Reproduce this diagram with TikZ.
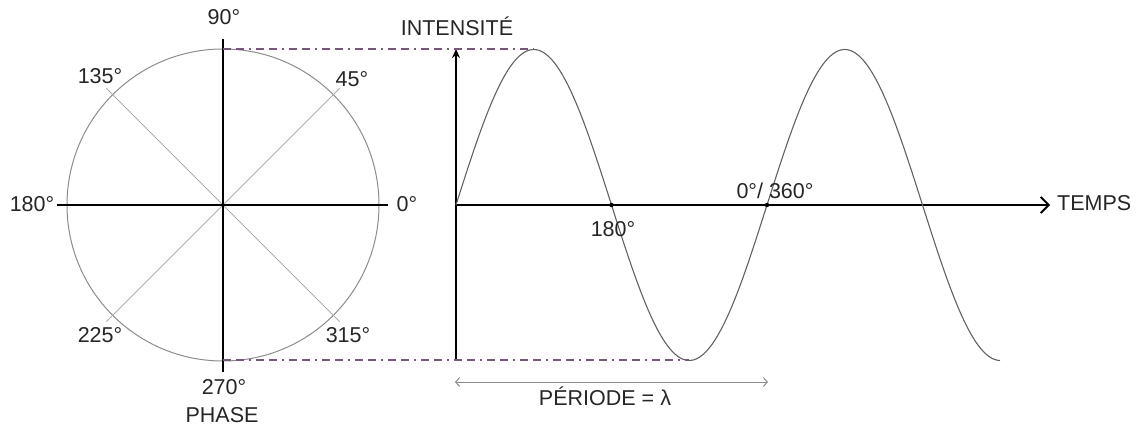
\documentclass[tikz,border=0pt]{standalone}
\usepackage{fontspec}
\setmainfont{Liberation Sans}
\usetikzlibrary{arrows.meta}
\definecolor{phasegray}{RGB}{140,140,140}
\definecolor{spokegray}{RGB}{175,175,175}
\definecolor{guide}{RGB}{120,85,125}
\begin{document}
\begin{tikzpicture}[>={Stealth[length=9pt, width=8pt]}, x=1pt, y=-1pt,
  lbl/.style={anchor=base, inner sep=0pt, text=black!85, font=\fontsize{21.5}{24}\selectfont},
  axis/.style={black, line width=1.8pt},
  spoke/.style={spokegray, line width=0.8pt},
  guideline/.style={guide, line width=2.4pt, dash pattern=on 8pt off 5pt on 8pt off 5pt on 2pt off 5pt}]
\useasboundingbox (0,0) rectangle (1142,427);
% phase circle
\coordinate (o) at (223,205);
\draw[phasegray, line width=1pt] (o) circle (156);
\foreach \a in {45,135,225,315}
  \draw[spoke] (o) -- ++(\a:-165);
\coordinate (top) at (223,39);
\coordinate (bot) at (223,372);
\coordinate (lft) at (57,205);
\coordinate (rgt) at (388,205);
\coordinate (ctop) at (223,49);
\coordinate (cbot) at (223,360);
\draw[axis] (top) -- (bot);
\draw[axis] (lft) -- (rgt);
\node[lbl] (p90) at (224,25) {90°};
\node[lbl] (p45) at (352,87) {45°};
\node[lbl] (p135) at (100,84) {135°};
\node[lbl] (p180) at (32,212) {180°};
\node[lbl] (p0) at (407,212) {0°};
\node[lbl] (p225) at (100,342) {225°};
\node[lbl] (p315) at (348,342) {315°};
\node[lbl] (p270) at (224,394) {270°};
\node[lbl] (phase) at (222,422) {PHASE};
% intensity / time axes
\coordinate (t0) at (456,360);
\coordinate (ttop) at (456,49);
\coordinate (x0) at (456,205);
\coordinate (xend) at (1050,205);
\draw[axis, ->] (t0) -- (ttop);
\draw[axis, -{Straight Barb[length=8pt, width=16pt, line width=1.8pt]}] (x0) -- (xend);
\node[lbl] (intens) at (457,36) {INTENSITÉ};
\node[lbl, anchor=base west] (temps) at (1057,211) {TEMPS};
% wave
\coordinate (peak) at (534,49);
\coordinate (trough) at (689,360);
\draw[phasegray!70!black, line width=1.1pt] plot[domain=456:1000, samples=200, smooth]
  (\x, {205-155.5*sin((\x-456)/311*360)});
\draw[guideline] (ctop) -- (peak);
\draw[guideline] (cbot) -- (trough);
\coordinate (c180) at (611.5,205);
\coordinate (c360) at (767,205);
\fill (c180) circle (2.2);
\fill (c360) circle (2.2);
\node[lbl] (w180) at (613,237) {180°};
\node[lbl] (w360) at (775,199) {0°/ 360°};
% period
\coordinate (pa) at (455,382);
\coordinate (pb) at (768,382);
\draw[phasegray, line width=1pt, {Straight Barb[length=4pt, width=9pt]}-{Straight Barb[length=4pt, width=9pt]}] (pa) -- (pb);
\node[lbl] (period) at (605,405) {PÉRIODE = λ};
\end{tikzpicture}
\end{document}
